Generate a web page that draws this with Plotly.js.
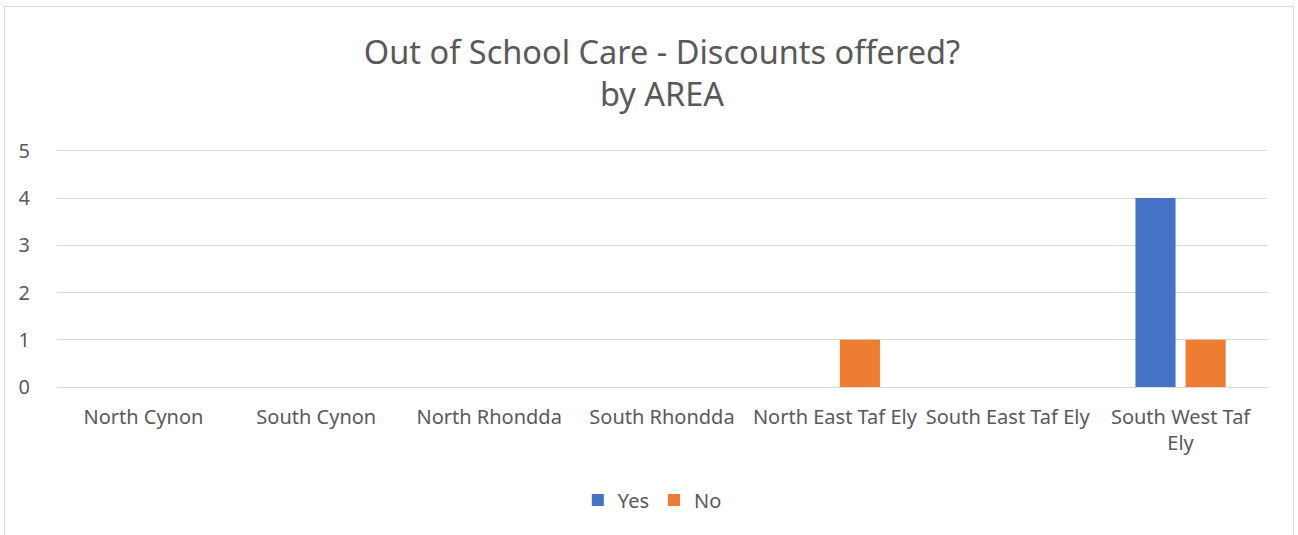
<!DOCTYPE html>
<html>
<head>
<meta charset="utf-8">
<script src="https://cdn.plot.ly/plotly-3.0.1.min.js"></script>
<style>
  html, body { margin: 0; padding: 0; background: #fff; }
  #frame { position: absolute; left: 4px; top: 6px; width: 1290px; height: 540px; border: 1px solid #d9d9d9; box-sizing: border-box; }
  #chart { position: absolute; left: 0; top: 0; width: 1298px; height: 535px; }
</style>
</head>
<body>
<div id="frame"></div>
<div id="chart"></div>
<script>
const categories = ["North Cynon", "South Cynon", "North Rhondda", "South Rhondda", "North East Taf Ely", "South East Taf Ely", "South West Taf<br>Ely"];
const yesValues = [0, 0, 0, 0, 0, 0, 4];
const noValues = [0, 0, 0, 0, 1, 0, 1];
const seriesNames = ["Yes", "No"];
const yTicks = [0, 1, 2, 3, 4, 5];

const font = "Noto Sans, Open Sans, sans-serif";
const textColor = "#595959";
const gridColor = "#d9d9d9";

const data = [
  { type: "bar", name: seriesNames[0], x: categories, y: yesValues, marker: { color: "#4472C4" }, hoverinfo: "x+y+name" },
  { type: "bar", name: seriesNames[1], x: categories, y: noValues, marker: { color: "#ED7D31" }, hoverinfo: "x+y+name" }
];

const layout = {
  width: 1298,
  height: 535,
  paper_bgcolor: "rgba(0,0,0,0)",
  plot_bgcolor: "rgba(0,0,0,0)",
  margin: { l: 57, r: 31, t: 149, b: 148 },
  font: { family: font, color: textColor, size: 20 },
  title: {
    text: "Out of School Care - Discounts offered?<br>by AREA",
    font: { family: font, size: 32.5, color: textColor },
    x: 0.5, xanchor: "center", xref: "paper",
    y: 0.88, yanchor: "top", yref: "container"
  },
  barmode: "group",
  bargap: 0.42,
  bargroupgap: 0.2,
  xaxis: {
    type: "category",
    tickfont: { family: font, size: 20, color: textColor },
    ticks: "outside", ticklen: 12, tickcolor: "rgba(0,0,0,0)",
    showline: false, showgrid: false, zeroline: false,
    fixedrange: true
  },
  yaxis: {
    range: [0, 5.04],
    tickvals: yTicks,
    tickfont: { family: font, size: 20, color: textColor },
    ticks: "outside", ticklen: 22, tickcolor: "rgba(0,0,0,0)",
    showgrid: true, gridcolor: gridColor, gridwidth: 1,
    zeroline: true, zerolinecolor: gridColor, zerolinewidth: 1,
    showline: false, fixedrange: true
  },
  showlegend: true,
  legend: {
    orientation: "h",
    x: 0.492, xanchor: "center",
    y: -0.475, yanchor: "middle",
    font: { family: font, size: 20, color: textColor },
    itemwidth: 30,
    traceorder: "normal"
  }
};

Plotly.newPlot("chart", data, layout, { displayModeBar: false, staticPlot: true });
</script>
</body>
</html>
